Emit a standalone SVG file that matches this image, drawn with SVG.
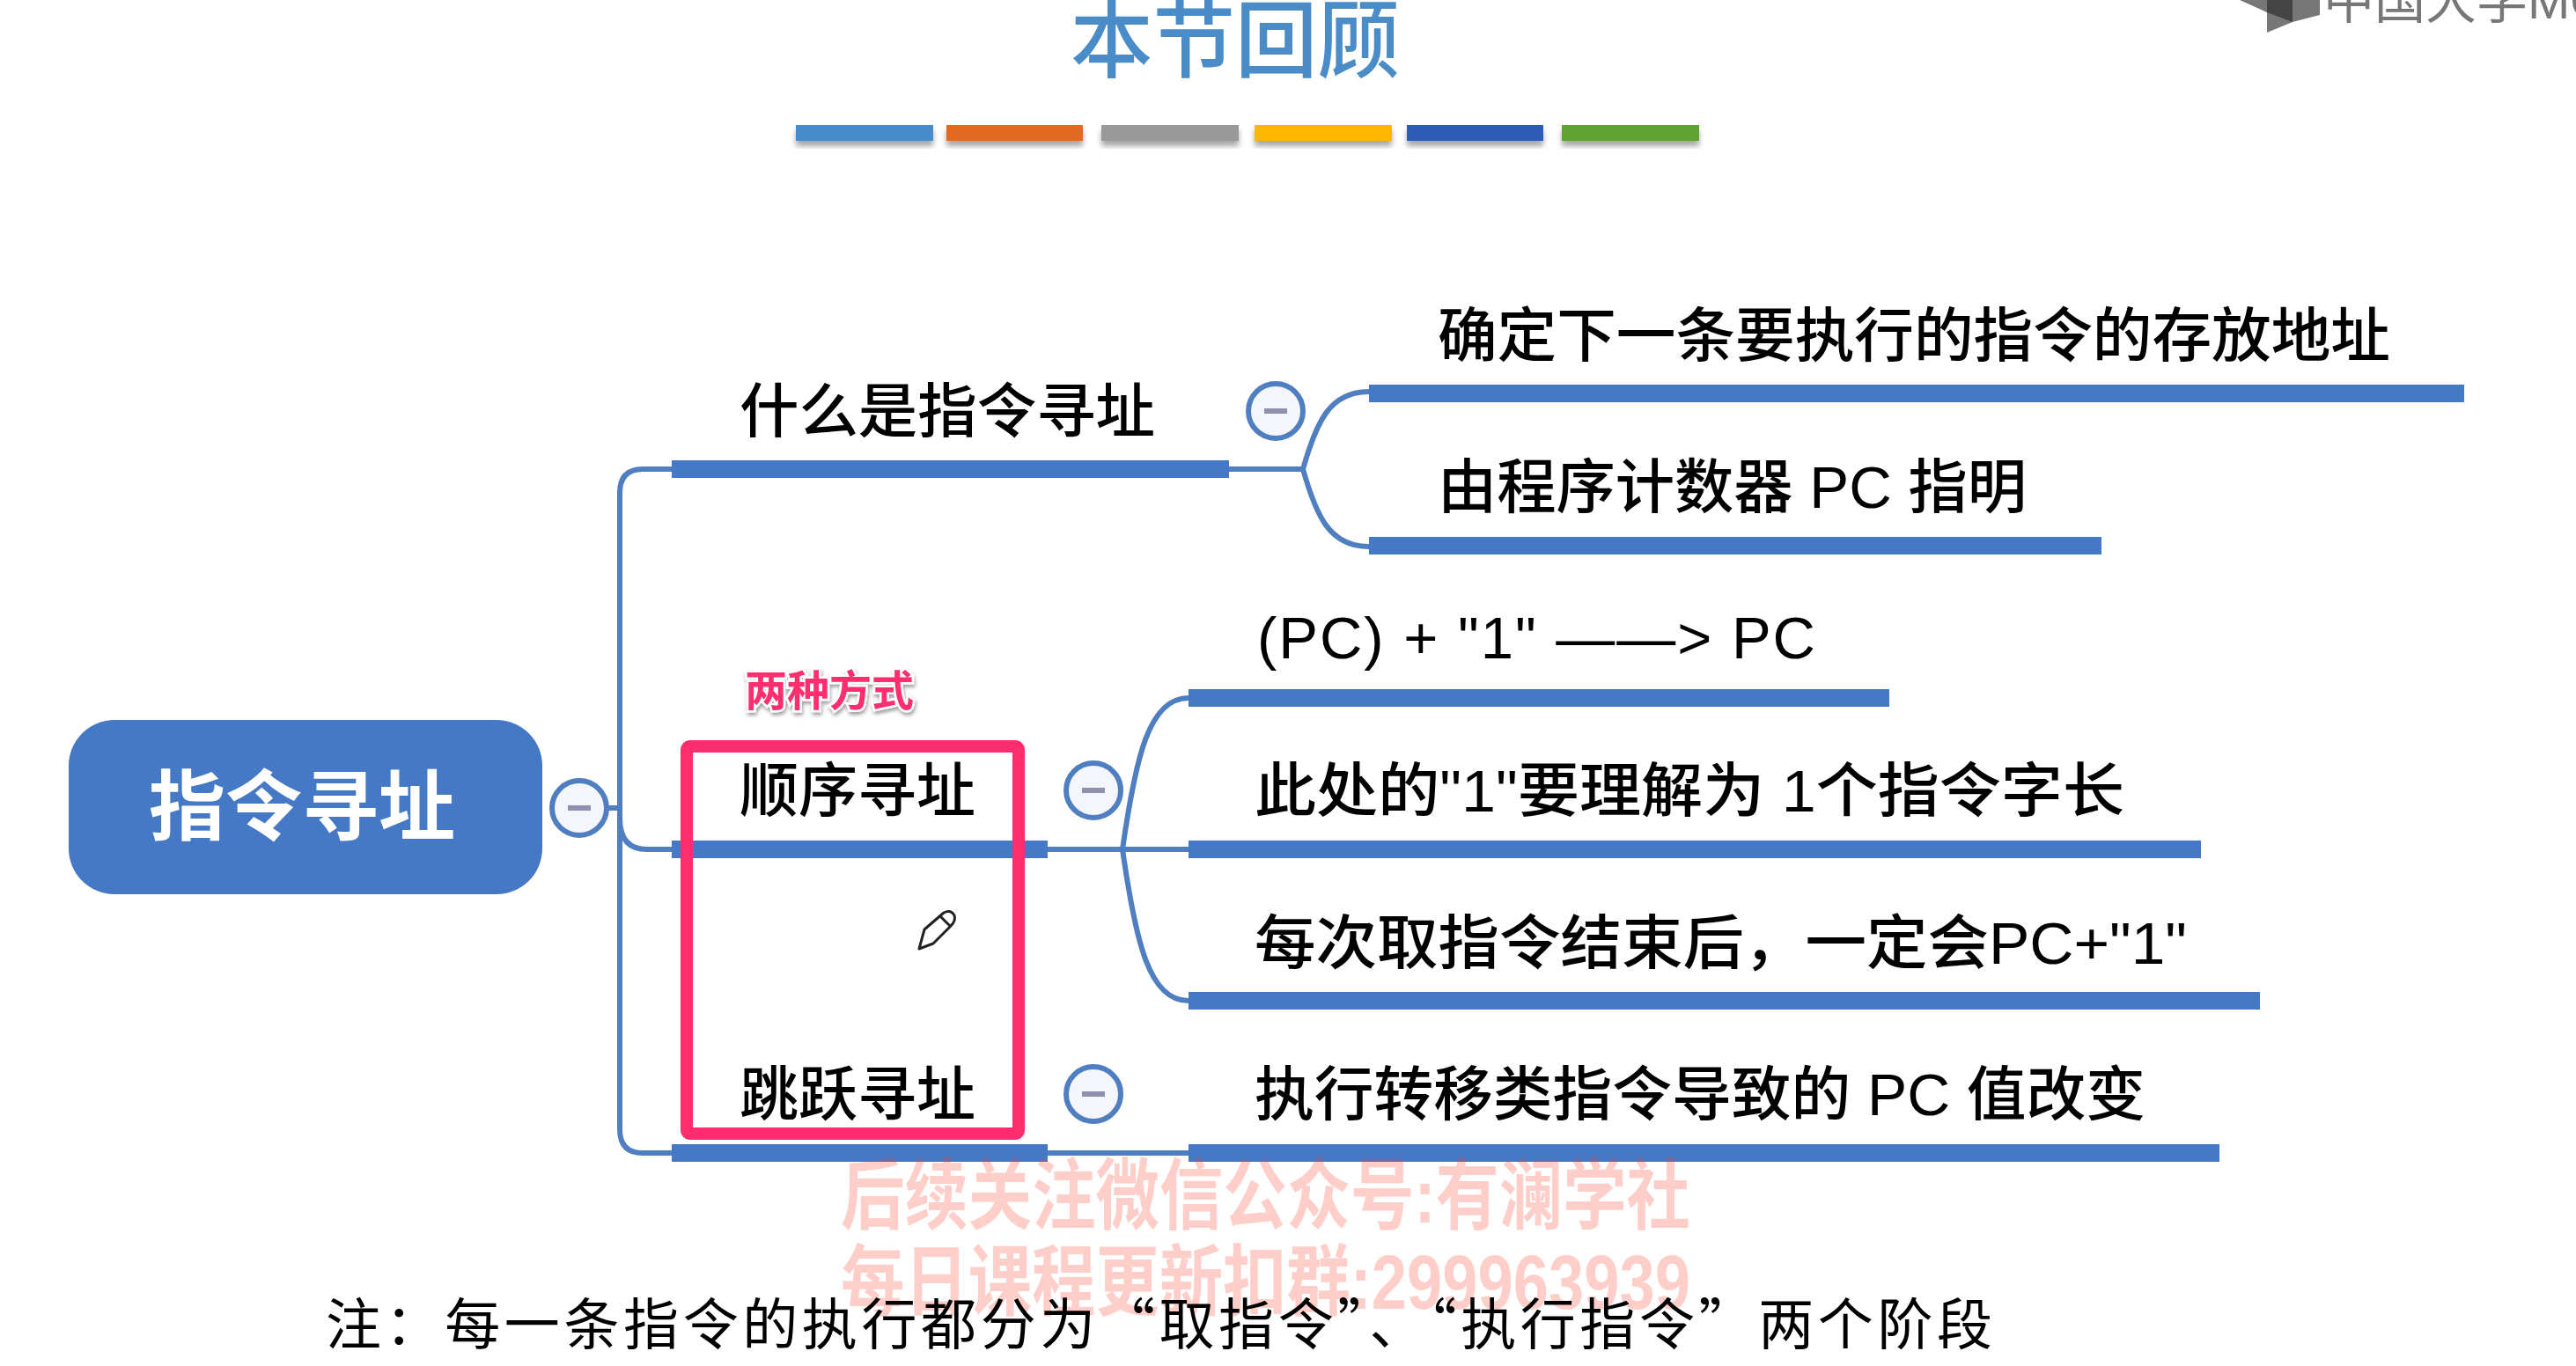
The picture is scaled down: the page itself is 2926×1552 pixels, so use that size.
<svg xmlns="http://www.w3.org/2000/svg" width="2926" height="1552" viewBox="0 0 2926 1552">
<defs>
<filter id="sh" x="-10%" y="-30%" width="120%" height="180%"><feDropShadow dx="0" dy="6" stdDeviation="3" flood-color="#000" flood-opacity="0.35"/></filter>
<filter id="glow" x="-10%" y="-20%" width="120%" height="150%"><feDropShadow dx="1" dy="3" stdDeviation="2" flood-color="#000" flood-opacity="0.4"/></filter>
</defs>
<style>
text{font-family:"Liberation Sans","Noto Sans CJK SC",sans-serif;fill:#000}
.l{font-size:67px;font-weight:500}
.bar{fill:#4579c6}
.conn{fill:none;stroke:#4f7fc0;stroke-width:6}
.btn{fill:#f5f6fb;stroke:#4f7fc0;stroke-width:6}
.minus{fill:none;stroke:#8f8fae;stroke-width:6}
.wm{fill:#ff3c28;fill-opacity:.25;font-size:88px;font-weight:700}
</style>
<rect width="2926" height="1552" fill="#fff"/>

<g id="title"><text x="1216" y="80" font-size="96" font-weight="500" style="fill:#4a8cc8" textLength="374" lengthAdjust="spacingAndGlyphs">本节回顾</text></g>
<g id="colour-bars" filter="url(#sh)">
<rect x="904" y="142" width="156" height="18" fill="#4a8ccc"/>
<rect x="1075" y="142" width="155" height="18" fill="#e26b22"/>
<rect x="1251" y="142" width="156" height="18" fill="#999999"/>
<rect x="1425" y="142" width="156" height="18" fill="#ffb800"/>
<rect x="1598" y="142" width="155" height="18" fill="#2f5bb5"/>
<rect x="1774" y="142" width="156" height="18" fill="#5ea232"/>
</g>
<g id="logo">
<polygon points="2544,0 2575,14 2575,37 2604,25 2635,17 2635,0" fill="#777"/>
<polygon points="2575,0 2604,0 2604,25 2575,14" fill="#444"/>
<text x="2639" y="21" font-size="58" style="fill:#777">中国大学MOOC</text>
</g>

<g id="connectors">
<path class="conn" d="M690 918H704"/>
<path class="conn" d="M763 533H730Q704 533 704 560V1283Q704 1310 730 1310H763"/>
<path class="conn" d="M704 930Q704 965 735 965H763"/>
<path class="conn" d="M1190 965H1350"/>
<path class="conn" d="M1350 793C1305 793 1290 860 1275 965C1290 1070 1305 1137 1350 1137"/>
<path class="conn" d="M1190 1310H1350"/>
<path class="conn" d="M1396 533H1480"/>
<path class="conn" d="M1555 445C1510 445 1495 480 1480 533C1495 586 1510 621 1555 621"/>
</g>

<g id="root"><rect x="78" y="818" width="538" height="198" rx="52" fill="#4579c6"/><text x="169" y="948" font-size="87" font-weight="700" style="fill:#fff">指令寻址</text></g>
<g id="root-toggle"><circle class="btn" cx="658" cy="918" r="31"/><path class="minus" d="M645 918H671"/></g>

<g id="n1"><rect class="bar" x="763" y="523" width="633" height="20"/><text class="l" x="840" y="491" textLength="472" lengthAdjust="spacingAndGlyphs">什么是指令寻址</text></g>
<g id="n1-toggle"><circle class="btn" cx="1449" cy="467" r="31"/><path class="minus" d="M1436 467H1462"/></g>
<g id="n2"><rect class="bar" x="763" y="955" width="427" height="20"/><text class="l" x="840" y="922">顺序寻址</text></g>
<g id="n2-toggle"><circle class="btn" cx="1242" cy="898" r="31"/><path class="minus" d="M1229 898H1255"/></g>
<g id="n3"><rect class="bar" x="763" y="1300" width="427" height="20"/><text class="l" x="840" y="1267">跳跃寻址</text></g>
<g id="n3-toggle"><circle class="btn" cx="1242" cy="1243" r="31"/><path class="minus" d="M1229 1243H1255"/></g>

<g id="n1a"><rect class="bar" x="1555" y="437" width="1244" height="20"/><text class="l" x="1633" y="405" textLength="1082" lengthAdjust="spacingAndGlyphs">确定下一条要执行的指令的存放地址</text></g>
<g id="n1b"><rect class="bar" x="1555" y="610" width="832" height="20"/><text class="l" x="1633" y="577" textLength="669" lengthAdjust="spacingAndGlyphs">由程序计数器 PC 指明</text></g>
<g id="n2a"><rect class="bar" x="1350" y="783" width="796" height="20"/><text class="l" x="1428" y="748" textLength="634" lengthAdjust="spacing">(PC) + "1" ——&gt; PC</text></g>
<g id="n2b"><rect class="bar" x="1350" y="955" width="1150" height="20"/><text class="l" x="1425" y="922" textLength="988" lengthAdjust="spacingAndGlyphs">此处的"1"要理解为 1个指令字长</text></g>
<g id="n2c"><rect class="bar" x="1350" y="1127" width="1217" height="20"/><text class="l" x="1425" y="1095" textLength="1059" lengthAdjust="spacingAndGlyphs">每次取指令结束后，一定会PC+"1"</text></g>
<g id="n3a"><rect class="bar" x="1350" y="1300" width="1171" height="20"/><text class="l" x="1425" y="1267" textLength="1012" lengthAdjust="spacingAndGlyphs">执行转移类指令导致的 PC 值改变</text></g>

<g id="highlight">
<rect x="780" y="848" width="377" height="440" rx="4" fill="none" stroke="#ff2d6e" stroke-width="14"/>
<text x="846" y="802" font-size="48" font-weight="700" filter="url(#glow)" style="fill:#ff2d6e;stroke:#fff;stroke-width:5;paint-order:stroke">两种方式</text>
</g>
<g id="pencil" fill="#fff" stroke="#222" stroke-width="3" stroke-linejoin="round">
<path d="M1044 1078L1050 1056L1072 1037Q1080 1033 1084 1040Q1086 1046 1080 1052L1060 1072Z"/>
<path d="M1068 1041L1080 1053" fill="none"/>
</g>

<g id="watermark">
<text class="wm" x="955" y="1389" textLength="965" lengthAdjust="spacingAndGlyphs">后续关注微信公众号:有澜学社</text>
<text class="wm" x="955" y="1487" textLength="965" lengthAdjust="spacingAndGlyphs">每日课程更新扣群:299963939</text>
</g>
<g id="note"><text x="370" y="1527" font-size="63" textLength="1893" lengthAdjust="spacing" style="font-family:'Noto Sans CJK SC',sans-serif">注：每一条指令的执行都分为“取指令”、“执行指令”两个阶段</text></g>
</svg>
